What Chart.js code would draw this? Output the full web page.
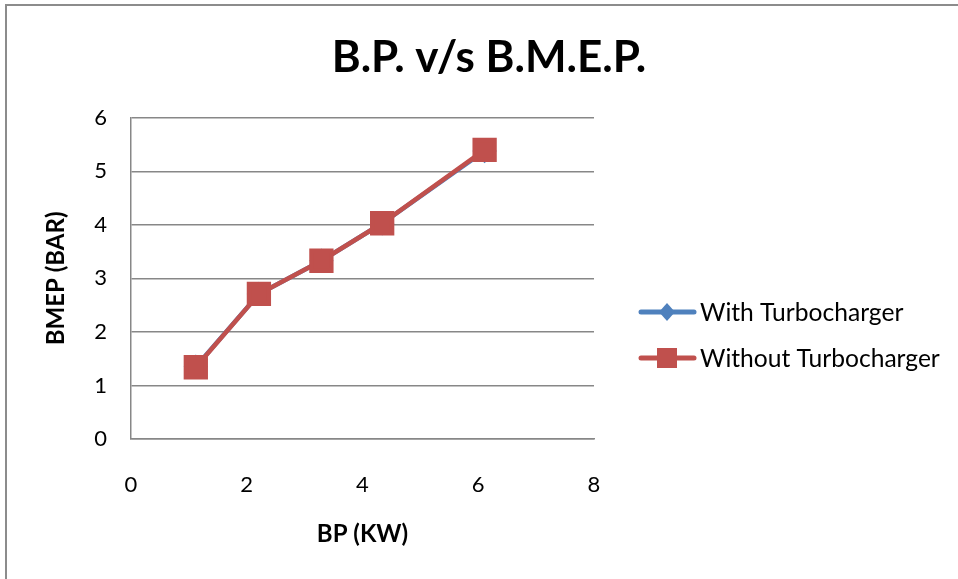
<!DOCTYPE html>
<html>
<head>
<meta charset="utf-8">
<script src="https://cdn.jsdelivr.net/npm/chart.js@4"></script>
<style>
  html, body { margin: 0; padding: 0; background: #fff; }
  #wrap { width: 958px; height: 579px; }
</style>
</head>
<body>
<div id="wrap"><canvas id="myChart" width="958" height="579"></canvas></div>
<script>
// values
const bpValues = [1.12, 2.21, 3.29, 4.34, 6.11];
const bmepWithTurbo = [1.35, 2.71, 3.33, 4.03, 5.38];
const bmepWithoutTurbo = [1.34, 2.71, 3.33, 4.03, 5.40];
const xTicks = [0, 2, 4, 6, 8];
const yTicks = [0, 1, 2, 3, 4, 5, 6];
const seriesNames = ['With Turbocharger', 'Without Turbocharger'];

const BLUE = '#4F81BD';
const RED = '#C0504D';
const GRID = '#878787';
const FONT = 'Lato, "Open Sans", sans-serif';

const PAD_LEFT = 20;
const PLOT_LEFT = 131;
const LEGEND_SPACE = 364; // room right of the plot for the legend

function toPoints(xs, ys) {
    return xs.map((x, i) => ({x: x, y: ys[i]}));
}

// grey outer frame like the excel chart border
const framePlugin = {
    id: 'frame',
    beforeDraw(chart) {
        const ctx = chart.ctx;
        ctx.save();
        ctx.fillStyle = '#fff';
        ctx.fillRect(0, 0, chart.width, chart.height);
        ctx.strokeStyle = '#8c8c8c';
        ctx.lineWidth = 2;
        ctx.strokeRect(6, 5, 1200, 1200);
        ctx.restore();
    }
};

// excel style legend: short line with the marker on it, then the name
const sideLegend = {
    id: 'sideLegend',
    afterDraw(chart) {
        const ctx = chart.ctx;
        const left = chart.chartArea.right + 47;
        const rows = [312, 358];
        ctx.save();
        chart.data.datasets.forEach((ds, i) => {
            const y = rows[i];
            ctx.strokeStyle = ds.borderColor;
            ctx.fillStyle = ds.backgroundColor;
            ctx.lineWidth = 5;
            ctx.lineCap = 'round';
            ctx.beginPath();
            ctx.moveTo(left, y);
            ctx.lineTo(left + 53, y);
            ctx.stroke();
            const cx = left + 26;
            if (ds.pointStyle === 'rectRot') {
                ctx.beginPath();
                ctx.moveTo(cx, y - 9);
                ctx.lineTo(cx + 8, y);
                ctx.lineTo(cx, y + 9);
                ctx.lineTo(cx - 8, y);
                ctx.closePath();
                ctx.fill();
            } else {
                ctx.fillRect(cx - 10, y - 10, 20, 20);
            }
            ctx.fillStyle = '#000';
            ctx.font = '24.6px ' + FONT;
            ctx.textBaseline = 'middle';
            ctx.textAlign = 'left';
            ctx.fillText(ds.label, left + 59, y + 1);
        });
        ctx.restore();
    }
};

const ctx = document.getElementById('myChart').getContext('2d');
const myChart = new Chart(ctx, {
    type: 'scatter',
    data: {
        datasets: [
            {
                label: seriesNames[0],
                data: toPoints(bpValues, bmepWithTurbo),
                order: 1,
                showLine: true,
                borderColor: BLUE,
                backgroundColor: BLUE,
                borderWidth: 4.5,
                pointStyle: 'rectRot',
                pointRadius: 9,
                pointHoverRadius: 9
            },
            {
                label: seriesNames[1],
                data: toPoints(bpValues, bmepWithoutTurbo),
                order: 0,
                showLine: true,
                borderColor: RED,
                backgroundColor: RED,
                borderWidth: 4.5,
                pointStyle: 'rect',
                pointRadius: 14,
                pointHoverRadius: 14
            }
        ]
    },
    options: {
        responsive: false,
        animation: false,
        layout: {
            padding: {left: PAD_LEFT, right: 0, top: 10, bottom: 30}
        },
        plugins: {
            tooltip: {enabled: false},
            legend: {display: false},
            title: {
                display: true,
                text: 'B.P. v/s B.M.E.P.',
                color: '#000',
                font: {family: FONT, size: 44, weight: 'bold'},
                padding: {top: 21, bottom: 34}
            }
        },
        scales: {
            x: {
                type: 'linear',
                min: xTicks[0],
                max: xTicks[xTicks.length - 1],
                afterBuildTicks(scale) {
                    scale.ticks = xTicks.map(v => ({value: v}));
                },
                afterFit(scale) {
                    scale.height = 110;
                },
                grid: {display: false, drawTicks: false},
                border: {display: true, color: GRID, width: 1.5},
                ticks: {
                    color: '#000',
                    padding: 33,
                    font: {family: FONT, size: 22}
                },
                title: {
                    display: true,
                    text: 'BP (KW)',
                    color: '#000',
                    font: {family: FONT, size: 24, weight: 'bold'},
                    padding: {top: 0, bottom: 0}
                }
            },
            y: {
                type: 'linear',
                min: yTicks[0],
                max: yTicks[yTicks.length - 1],
                afterBuildTicks(scale) {
                    scale.ticks = yTicks.map(v => ({value: v}));
                },
                afterFit(scale) {
                    scale.width = PLOT_LEFT - PAD_LEFT;
                },
                grid: {color: GRID, lineWidth: 1.5, drawTicks: false},
                border: {display: true, color: GRID, width: 1.5},
                ticks: {
                    color: '#000',
                    padding: 24,
                    font: {family: FONT, size: 22}
                },
                title: {
                    display: true,
                    text: 'BMEP (BAR)',
                    color: '#000',
                    font: {family: FONT, size: 24, weight: 'bold'},
                    padding: {top: 22, bottom: 0}
                }
            },
            // empty right axis, only reserves the legend room
            legendRoom: {
                type: 'linear',
                position: 'right',
                afterFit(scale) {
                    scale.width = LEGEND_SPACE;
                },
                grid: {display: false, drawTicks: false},
                border: {display: false},
                ticks: {display: false}
            }
        }
    },
    plugins: [framePlugin, sideLegend]
});
</script>
</body>
</html>
